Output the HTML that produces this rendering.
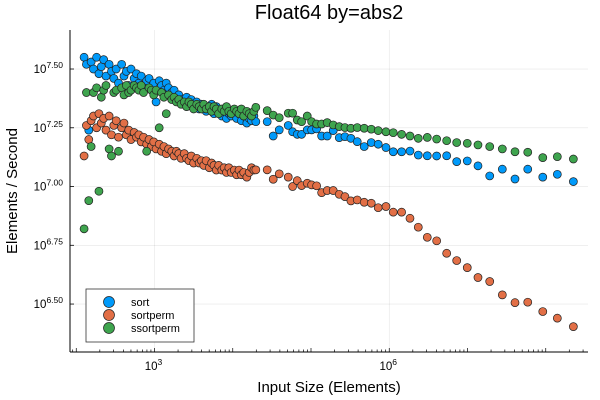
<!DOCTYPE html>
<html><head><meta charset="utf-8">
<style>
html,body{margin:0;padding:0;background:#fff;}
svg{display:block;font-family:"Liberation Sans","DejaVu Sans",sans-serif;}
</style></head>
<body>
<svg id="chart" width="600" height="400" viewBox="0 0 600 400" xmlns="http://www.w3.org/2000/svg">
<rect x="0" y="0" width="600" height="400" fill="#fff"/>
<text x="329" y="19" font-size="20" text-anchor="middle" fill="#000">Float64 by=abs2</text>
<text x="329" y="392" font-size="15" text-anchor="middle" fill="#000">Input Size (Elements)</text>
<text transform="translate(17,191) rotate(-90)" font-size="15" text-anchor="middle" fill="#000">Elements / Second</text>
<g id="grid"></g>
<g id="axes"></g>
<g id="marks"></g>
<g id="legend"></g>
</svg>
<script>
// log10 of input sizes
const sizes = [2.10,2.13,2.16,2.19,2.22,2.26,2.29,2.32,2.35,2.38,2.42,2.45,2.48,2.51,2.54,2.58,2.61,2.64,2.67,2.70,
2.74,2.77,2.80,2.83,2.86,2.90,2.93,2.96,2.99,3.02,3.06,3.09,3.12,3.15,3.18,3.22,3.25,3.28,3.31,3.34,
3.38,3.41,3.44,3.47,3.50,3.54,3.57,3.60,3.63,3.66,3.70,3.73,3.76,3.79,3.82,3.86,3.89,3.92,3.95,3.98,
4.02,4.05,4.08,4.11,4.14,4.18,4.21,4.24,4.27,
4.295,4.440,4.517,4.594,4.709,4.765,4.824,4.880,4.952,5.008,5.072,5.136,5.207,5.284,5.361,5.434,5.510,5.591,5.680,5.770,
5.859,5.958,6.051,6.158,6.265,6.371,6.486,6.606,6.734,6.862,6.997,7.134,7.284,7.445,7.607,7.770,7.962,8.148,8.353];
// log10 of elements/second
const sortVals = [7.55,7.52,7.24,7.53,7.50,7.55,7.48,7.51,7.54,7.47,
7.52,7.49,7.46,7.50,7.44,7.52,7.47,7.49,7.43,7.50,
7.46,7.48,7.44,7.47,7.43,7.45,7.46,7.42,7.44,7.36,
7.45,7.43,7.41,7.44,7.42,7.40,7.41,7.38,7.39,7.37,
7.36,7.38,7.35,7.37,7.34,7.36,7.33,7.35,7.34,7.32,
7.33,7.35,7.31,7.34,7.32,7.30,7.33,7.29,7.31,7.30,
7.32,7.29,7.31,7.28,7.30,7.27,7.29,7.28,7.30,
7.276,7.276,7.215,7.241,7.260,7.233,7.222,7.222,7.241,7.241,7.245,7.215,7.215,7.238,7.208,7.212,7.205,7.191,7.170,7.187,
7.180,7.166,7.148,7.148,7.151,7.134,7.131,7.130,7.131,7.106,7.109,7.088,7.045,7.074,7.032,7.074,7.040,7.052,7.021];
const sortpermVals = [7.13,7.26,7.20,7.28,7.30,7.25,7.31,7.27,7.29,7.24,
7.30,7.22,7.26,7.28,7.21,7.25,7.27,7.22,7.24,7.20,
7.23,7.21,7.22,7.19,7.21,7.18,7.20,7.17,7.19,7.16,
7.18,7.15,7.17,7.14,7.16,7.15,7.13,7.15,7.14,7.12,
7.14,7.12,7.11,7.13,7.10,7.12,7.10,7.11,7.09,7.11,
7.08,7.10,7.09,7.07,7.09,7.07,7.08,7.06,7.08,7.06,
7.07,7.05,7.07,7.05,7.06,7.04,7.06,7.08,7.07,
7.071,7.071,7.031,7.054,7.040,7.000,7.025,7.004,7.014,7.007,7.003,6.974,6.983,6.983,6.967,6.957,6.939,6.943,6.933,6.929,
6.910,6.915,6.891,6.891,6.865,6.827,6.784,6.769,6.716,6.685,6.655,6.613,6.596,6.539,6.506,6.508,6.468,6.440,6.404];
const ssortpermVals = [6.82,7.40,6.94,7.17,7.40,7.42,6.98,7.38,7.41,7.43,
7.16,7.13,7.40,7.41,7.15,7.42,7.39,7.43,7.40,7.41,
7.43,7.42,7.41,7.43,7.40,7.15,7.42,7.41,7.39,7.41,
7.25,7.40,7.38,7.31,7.39,7.37,7.38,7.36,7.37,7.35,
7.36,7.34,7.36,7.35,7.33,7.35,7.34,7.33,7.35,7.33,
7.34,7.32,7.34,7.33,7.31,7.33,7.32,7.34,7.32,7.31,
7.33,7.32,7.31,7.33,7.30,7.32,7.31,7.30,7.32,
7.337,7.323,7.304,7.293,7.312,7.312,7.283,7.276,7.300,7.276,7.266,7.266,7.272,7.262,7.255,7.251,7.248,7.251,7.248,7.244,
7.238,7.233,7.229,7.222,7.215,7.205,7.209,7.202,7.195,7.187,7.184,7.177,7.170,7.160,7.148,7.146,7.123,7.127,7.117];
const seriesNames = ["sort","sortperm","ssortperm"];
const seriesColors = ["#009AFA","#E26F46","#3EA44E"];
const xTickExps = [3,6];
const yTickVals = [6.50,6.75,7.00,7.25,7.50];
const yTickLabels = ["6.50","6.75","7.00","7.25","7.50"];

const NS="http://www.w3.org/2000/svg";
const L=70,R=588,T=30,B=352;
const xDom=[1.92,8.54], yDom=[6.296,7.666];
function xs(v){return L+(v-xDom[0])/(xDom[1]-xDom[0])*(R-L);}
function ys(v){return B-(v-yDom[0])/(yDom[1]-yDom[0])*(B-T);}
function mk(tag,attrs,parent){const e=document.createElementNS(NS,tag);for(const k in attrs)e.setAttribute(k,attrs[k]);parent.appendChild(e);return e;}
const grid=document.getElementById('grid'),axes=document.getElementById('axes'),marks=document.getElementById('marks'),legend=document.getElementById('legend');

// grid + y ticks
yTickVals.forEach((v,i)=>{
  const y=ys(v);
  const g=mk('line',{x1:L,x2:R,y1:y,y2:y,stroke:'#000','stroke-opacity':0.1,'stroke-width':0.6},grid);
  
  
  const tk=mk('line',{x1:L,x2:L+4,y1:y,y2:y,stroke:'#000','stroke-width':0.8},axes);
  
  
  const t=mk('text',{x:L-7,y:y+4,'font-size':11.5,'text-anchor':'end',fill:'#000'},axes);
  
  
  const a=document.createElementNS(NS,'tspan');a.textContent='10';t.appendChild(a);
  const b=document.createElementNS(NS,'tspan');b.setAttribute('dy','-5');b.setAttribute('font-size','8.5');b.textContent=yTickLabels[i];t.appendChild(b);
});
// x ticks
xTickExps.forEach(e=>{
  const x=xs(e);
  const g=mk('line',{x1:x,x2:x,y1:T,y2:B,stroke:'#000','stroke-opacity':0.1,'stroke-width':0.6},grid);
  
  
  const t=mk('text',{x:x-1,y:B+18,'font-size':11.5,'text-anchor':'middle',fill:'#000'},axes);
  
  
  const a=document.createElementNS(NS,'tspan');a.textContent='10';t.appendChild(a);
  const b=document.createElementNS(NS,'tspan');b.setAttribute('dy','-5');b.setAttribute('font-size','8.5');b.textContent=String(e);t.appendChild(b);
});
for(let k=1;k<=8;k++){for(let m=1;m<=9;m++){
  const v=k+Math.log10(m); if(v<xDom[0]||v>xDom[1])continue;
  const x=xs(v);
  const tk=mk('line',{x1:x,x2:x,y1:B,y2:B-(m===1?4:2.5),stroke:'#000','stroke-width':0.7},axes);
  
  
}}
const ax1=mk('line',{x1:L,x2:L,y1:T,y2:B,stroke:'#000','stroke-width':1},axes);


const ax2=mk('line',{x1:L,x2:R,y1:B,y2:B,stroke:'#000','stroke-width':1},axes);



// points
[sortVals,sortpermVals,ssortpermVals].forEach((vals,s)=>{
  const g=mk('g',{},marks);
  
  
  vals.forEach((v,i)=>{
    const c=mk('circle',{cx:xs(sizes[i]),cy:ys(v),r:4,fill:seriesColors[s],stroke:'#222','stroke-width':0.7},g);
    
    
  });
});

// legend
const box=mk('rect',{x:86,y:289,width:108,height:53,fill:'#fff',stroke:'#333','stroke-width':0.8},legend);


seriesNames.forEach((n,i)=>{
  const y=302+i*13;
  const g=mk('g',{},legend);
  
  
  mk('circle',{cx:109,cy:y,r:5.5,fill:seriesColors[i],stroke:'#222','stroke-width':0.7},g);
  const t=mk('text',{x:131,y:y+4,'font-size':11,fill:'#000'},g);
  t.textContent=n;
});
</script>
</body></html>
